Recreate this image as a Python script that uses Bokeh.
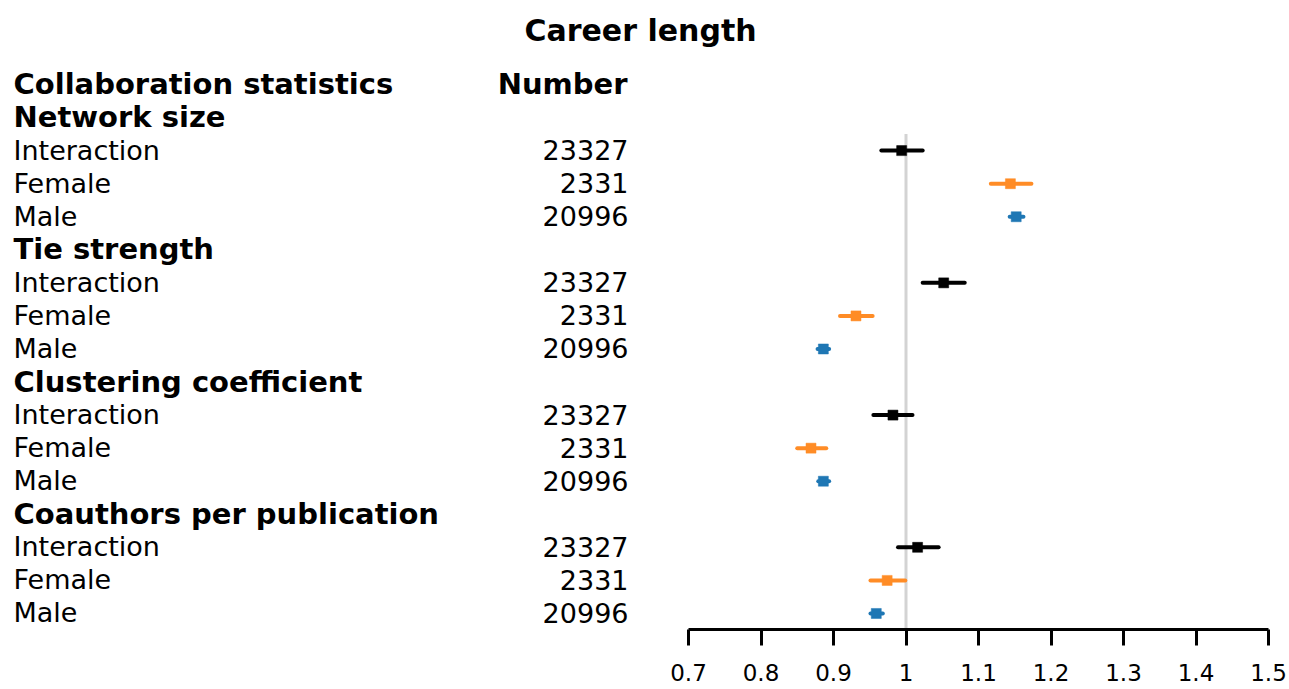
from bokeh.plotting import figure
from bokeh.models import Range1d, LinearAxis, FixedTicker, ColumnDataSource
from bokeh.core.properties import value
from bokeh.embed import file_html
from bokeh.resources import INLINE

# ---------------- data ----------------
title = "Career length"
header_left = "Collaboration statistics"
header_right = "Number"
group_names = ["Network size", "Tie strength", "Clustering coefficient", "Coauthors per publication"]
subgroup_names = ["Interaction", "Female", "Male"]
sample_sizes = ["23327", "2331", "20996"]

network_est = [0.994, 1.144, 1.152]
network_lo = [0.966, 1.117, 1.143]
network_hi = [1.023, 1.173, 1.162]

tie_est = [1.052, 0.931, 0.886]
tie_lo = [1.023, 0.909, 0.878]
tie_hi = [1.081, 0.954, 0.894]

cluster_est = [0.982, 0.869, 0.886]
cluster_lo = [0.955, 0.850, 0.879]
cluster_hi = [1.009, 0.890, 0.894]

coauth_est = [1.016, 0.974, 0.959]
coauth_lo = [0.989, 0.951, 0.951]
coauth_hi = [1.045, 0.999, 0.968]

tick_values = [0.7, 0.8, 0.9, 1.0, 1.1, 1.2, 1.3, 1.4, 1.5]
tick_labels = ["0.7", "0.8", "0.9", "1", "1.1", "1.2", "1.3", "1.4", "1.5"]
reference_value = 1.0

subgroup_colors = ["#000000", "#ff8c26", "#1f77b4"]

# ---------------- layout constants ----------------
W, H = 1289, 689
BOTTOM = 60                      # space for axis below frame
FRAME_H = H - BOTTOM
PX_07, PX_15 = 688, 1268         # canvas px of 0.7 and 1.5
XPP = (1.5 - 0.7) / (PX_15 - PX_07)
X_START = 0.7 - PX_07 * XPP
X_END = 1.5 + (W - PX_15) * XPP
ROW0_PX, ROW_H = 84.0, 33.06     # canvas px of row 0, row spacing
Y_TOP = -ROW0_PX / ROW_H
Y_BOT = (FRAME_H - ROW0_PX) / ROW_H


def xpx(cpx):
    return X_START + cpx * XPP


FONT = value("DejaVu Sans")
BOLD_OFF = -0.5
REG_OFF = -0.5

p = figure(width=W, height=H, x_range=Range1d(X_START, X_END),
           y_range=Range1d(Y_BOT, Y_TOP), output_backend="svg",
           toolbar_location=None, x_axis_location=None, y_axis_location=None,
           min_border=0, min_border_bottom=BOTTOM, outline_line_color=None,
           background_fill_color="white", border_fill_color="white")
p.xgrid.visible = False
p.ygrid.visible = False

# ---------------- build rows ----------------
ests = [network_est, tie_est, cluster_est, coauth_est]
los = [network_lo, tie_lo, cluster_lo, coauth_lo]
his = [network_hi, tie_hi, cluster_hi, coauth_hi]

bold_text, bold_y = [header_left], [0]
reg_text, reg_y, num_text = [], [], []
d_y, d_est, d_lo, d_hi, d_col = [], [], [], [], []
row = 1
for g, name in enumerate(group_names):
    bold_text.append(name)
    bold_y.append(row)
    row += 1
    for s, sub in enumerate(subgroup_names):
        reg_text.append(sub)
        reg_y.append(row)
        num_text.append(sample_sizes[s])
        d_y.append(row)
        d_est.append(ests[g][s])
        d_lo.append(los[g][s])
        d_hi.append(his[g][s])
        d_col.append(subgroup_colors[s])
        row += 1

# reference line
p.segment(x0=[reference_value], y0=[1.5], x1=[reference_value], y1=[Y_BOT + 0.1],
          line_color="#d3d3d3", line_width=3)

# texts
p.text(x=xpx(13), y="y", text="text", source=ColumnDataSource(dict(y=bold_y, text=bold_text)),
       text_font=FONT, text_font_style="bold", text_font_size="29px",
       text_baseline="alphabetic", text_align="left", y_offset=BOLD_OFF, text_color="black")
p.text(x=xpx(13), y="y", text="text", source=ColumnDataSource(dict(y=reg_y, text=reg_text)),
       text_font=FONT, text_font_size="27px",
       text_baseline="alphabetic", text_align="left", y_offset=REG_OFF, text_color="black")
p.text(x=xpx(628), y="y", text="text", source=ColumnDataSource(dict(y=reg_y, text=num_text)),
       text_font=FONT, text_font_size="27px",
       text_baseline="alphabetic", text_align="right", y_offset=REG_OFF, text_color="black")
p.text(x=[xpx(627)], y=[0], text=[header_right],
       text_font=FONT, text_font_style="bold", text_font_size="29px",
       text_baseline="alphabetic", text_align="right", y_offset=BOLD_OFF, text_color="black")
p.text(x=[xpx(640)], y=[0], text=[title],
       text_font=FONT, text_font_style="bold", text_font_size="30px",
       text_baseline="alphabetic", text_align="center", y_offset=-(ROW0_PX - 30), text_color="black")

# CIs and points
src = ColumnDataSource(dict(y=d_y, est=d_est, lo=d_lo, hi=d_hi, color=d_col))
p.segment(x0="lo", y0="y", x1="hi", y1="y", source=src, line_color="color",
          line_width=4, line_cap="round")
p.scatter(x="est", y="y", source=src, marker="square", size=10,
          fill_color="color", line_color="color", line_width=0.5)

# axis
axis = LinearAxis(bounds=(0.7, 1.5), ticker=FixedTicker(ticks=tick_values),
                  major_label_overrides={t: l for t, l in zip(tick_values, tick_labels)})
axis.axis_line_width = 3
axis.axis_line_color = "black"
axis.major_tick_line_width = 3
axis.major_tick_line_color = "black"
axis.major_tick_out = 16
axis.major_tick_in = 0
axis.minor_tick_out = 0
axis.minor_tick_in = 0
axis.major_label_text_font = "DejaVu Sans"
axis.major_label_text_font_size = "23px"
axis.major_label_text_color = "black"
axis.major_label_text_line_height = 0.8
axis.major_label_standoff = 18
p.add_layout(axis, "below")

open("out.html", "w").write(file_html(p, INLINE))
